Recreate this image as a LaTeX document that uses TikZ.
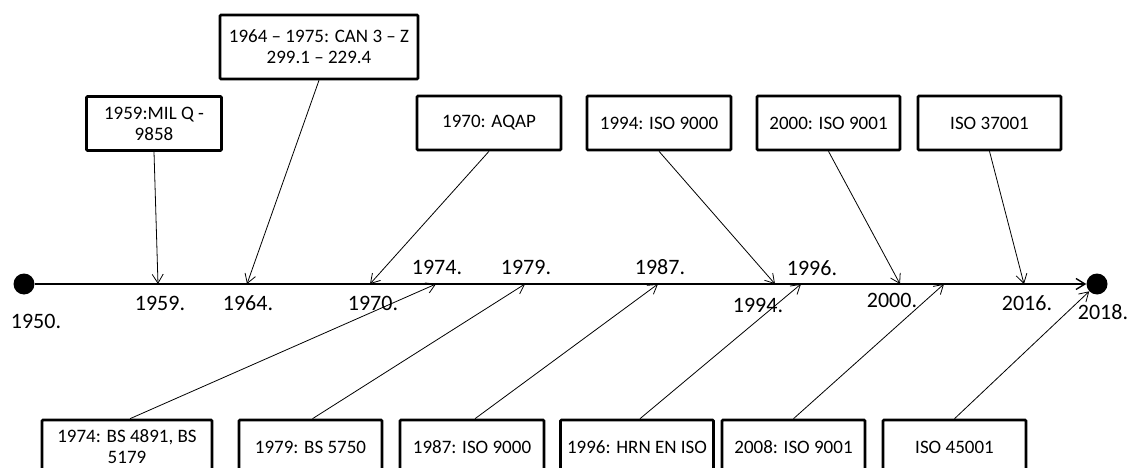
\documentclass[tikz,border=0pt]{standalone}
\usepackage{fontspec}
\setmainfont{Carlito}
\usetikzlibrary{arrows.meta}

\begin{document}
\begin{tikzpicture}[
  x=1pt, y=-1pt,
  every node/.style={font=\fontsize{19}{21}\selectfont},
  box/.style={draw, line width=2.6pt, rounded corners=1pt, align=center,
              minimum height=54pt, inner sep=2pt},
  yr/.style={font=\fontsize{22}{26}\selectfont, inner sep=0pt},
  dot/.style={circle, fill, inner sep=0pt, minimum size=21pt},
  arr/.style={-{Straight Barb[length=9pt, width=11pt]}, line width=0.8pt},
  axis/.style={-{Straight Barb[length=9pt, width=11pt]}, line width=1.4pt}
]
\clip (0,0) rectangle (1136,468);

\node[dot] (d1950) at (24,284) {};
\node[dot] (d2018) at (1097,284) {};
\draw[axis] (d1950) -- (d2018);

\coordinate (t1959) at (158,284);
\coordinate (t1964) at (247,284);
\coordinate (t1970) at (370,284);
\coordinate (t1974) at (436,284);
\coordinate (t1979) at (525,284);
\coordinate (t1987) at (658,284);
\coordinate (t1994) at (775,284);
\coordinate (t1996) at (801,284);
\coordinate (t2000) at (900,284);
\coordinate (t2008) at (944,284);
\coordinate (t2016) at (1024,284);

\node[yr] (y1950) at (36,321) {1950.};
\node[yr] (y1959) at (160,303) {1959.};
\node[yr] (y1964) at (248,303) {1964.};
\node[yr] (y1970) at (373,303) {1970.};
\node[yr] (y1974) at (437,267) {1974.};
\node[yr] (y1979) at (526,267) {1979.};
\node[yr] (y1987) at (660,267) {1987.};
\node[yr] (y1994) at (758,305) {1994.};
\node[yr] (y1996) at (812,268) {1996.};
\node[yr] (y2000) at (892,300) {2000.};
\node[yr] (y2016) at (1027,303) {2016.};
\node[yr] (y2018) at (1103,312) {2018.};

\node[box, minimum width=135pt] (mil) at (154,123.5) {1959:MIL Q -\\9858};
\node[box, minimum width=198pt, minimum height=64pt] (can) at (319,47)
   {1964 -- 1975: CAN 3 -- Z\\299.1 -- 229.4};
\node[box, minimum width=144pt] (aqap) at (489,123) {1970: AQAP};
\node[box, minimum width=144pt] (iso94) at (659,123) {1994: ISO 9000};
\node[box, minimum width=143pt] (iso00) at (828.5,123) {2000: ISO 9001};
\node[box, minimum width=143pt] (iso37) at (989.5,123) {ISO 37001};

\node[box, minimum width=170pt] (bs74) at (127,447)
   {1974: BS 4891, BS\\5179};
\node[box, minimum width=143pt] (bs79) at (310.5,447) {1979: BS 5750};
\node[box, minimum width=144pt] (iso87) at (472,447) {1987: ISO 9000};
\node[box, minimum width=153pt] (hrn) at (637,447) {1996: HRN EN ISO};
\node[box, minimum width=143pt] (iso08) at (793.5,447) {2008: ISO 9001};
\node[box, minimum width=143pt] (iso45) at (954.5,447) {ISO 45001};

\draw[arr] (mil.south) -- (t1959);
\draw[arr] (can.south) -- (t1964);
\draw[arr] (aqap.south) -- (t1970);
\draw[arr] (iso94.south) -- (t1994);
\draw[arr] (iso00.south) -- (t2000);
\draw[arr] (iso37.south) -- (t2016);

\draw[arr] ([xshift=3pt]bs74.north) -- (t1974);
\draw[arr] ([xshift=2pt]bs79.north) -- (t1979);
\draw[arr] ([xshift=3pt]iso87.north) -- (t1987);
\draw[arr] ([xshift=3pt]hrn.north) -- (t1996);
\draw[arr] (iso08.north) -- (t2008);
\draw[arr] (iso45.north) -- (d2018);
\end{tikzpicture}
\end{document}
